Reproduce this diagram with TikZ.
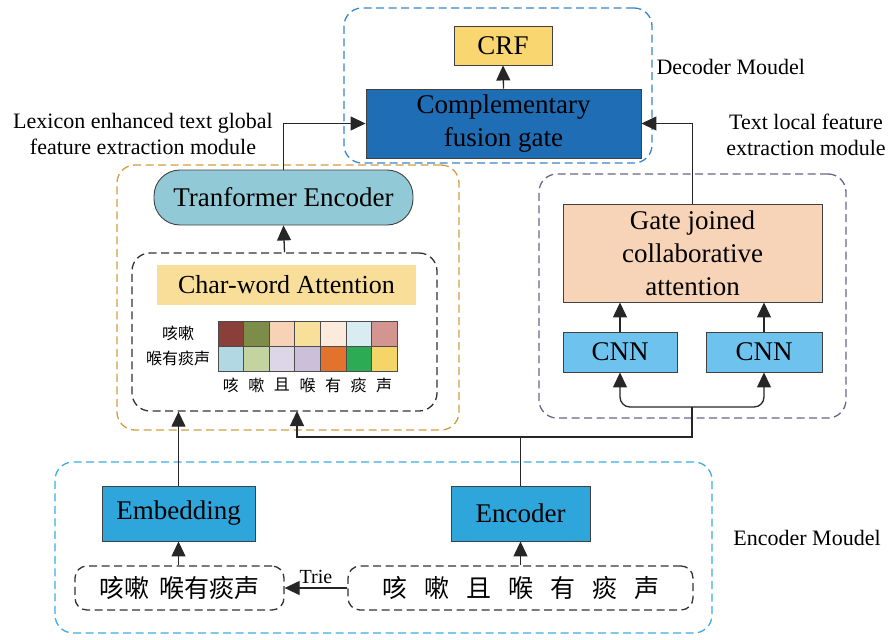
\documentclass[tikz,border=0pt]{standalone}
\usepackage{fontspec}
\setmainfont{Liberation Serif}
\newfontfamily\cjk{Noto Sans CJK SC}
\usetikzlibrary{arrows.meta,calc}
\definecolor{decblue}{HTML}{3A86C8}
\definecolor{encblue}{HTML}{3AAEE0}
\definecolor{goldc}{HTML}{CFA040}
\definecolor{purpc}{HTML}{6E6388}
\definecolor{crfy}{HTML}{F9D66F}
\definecolor{cfgb}{HTML}{1F6DB5}
\definecolor{transc}{HTML}{92C9D6}
\definecolor{cwy}{HTML}{F8DE98}
\definecolor{gatec}{HTML}{F7D3B8}
\definecolor{cnnc}{HTML}{6EC3EE}
\definecolor{embc}{HTML}{2EA6DC}
\begin{document}
\begin{tikzpicture}[x=1pt,y=-1pt,
  box/.style={draw=black!75, line width=0.9pt, inner sep=0pt, font=\fontsize{27}{30}\selectfont, align=center},
  arr/.style={line width=1.3pt, draw=black!85, -{Triangle[length=15pt,width=14pt]}},
  ln/.style={line width=1.3pt, draw=black!85},
  lbl/.style={font=\fontsize{22}{26}\selectfont, align=center},
  modbox/.style={line width=1.3pt, dash pattern=on 8pt off 4.5pt, rounded corners=18pt, inner sep=0pt},
  cjkl/.style={font=\cjk\fontsize{16}{18}\selectfont, inner sep=0pt},
]
\useasboundingbox (0,0) rectangle (892,640);

% module boxes
\node[modbox, draw=decblue, minimum width=308, minimum height=155] (decmod) at (498,85.5) {};
\node[modbox, draw=goldc, minimum width=342, minimum height=265] (globmod) at (288,297.5) {};
\node[modbox, draw=black!80, minimum width=305, minimum height=158] (cw) at (284.5,332) {};
\node[modbox, draw=purpc, minimum width=307, minimum height=244] (locmod) at (692.5,296) {};
\node[modbox, draw=encblue, minimum width=657, minimum height=171] (encmod) at (383.5,547.5) {};

% main boxes
\node[box, fill=crfy, minimum width=98, minimum height=39] (crf) at (503,45.5) {CRF};
\node[box, fill=cfgb, minimum width=275, minimum height=69, font=\fontsize{27}{33}\selectfont] (cfg) at (503.5,123.5) {Complementary\\fusion gate};
\node[box, fill=transc, minimum width=259, minimum height=55, rounded corners=26pt] (trans) at (283.5,197.5) {Tranformer Encoder};
\node[box, draw=none, fill=cwy, minimum width=259, minimum height=40, font=\fontsize{26}{30}\selectfont] (cwa) at (286.5,285) {Char-word Attention};
\node[box, fill=gatec, minimum width=259, minimum height=98, font=\fontsize{27}{33}\selectfont] (gate) at (692.5,253) {Gate joined\\collaborative\\attention};
\node[box, fill=cnnc, minimum width=114, minimum height=40] (cnn1) at (620,352) {CNN};
\node[box, fill=cnnc, minimum width=116, minimum height=40] (cnn2) at (764,352) {CNN};
\node[box, fill=embc, minimum width=153, minimum height=55] (emb) at (178.5,513.5) {Embedding};
\node[box, fill=embc, minimum width=139, minimum height=55] (enc) at (520.5,513.5) {Encoder};

% input boxes
\node[modbox, draw=black!80, rounded corners=12pt, minimum width=209, minimum height=44, font=\cjk\fontsize{25}{28}\selectfont] (inl) at (179.5,588) {咳嗽\hspace{10pt}喉有痰声};
\node[modbox, draw=black!80, rounded corners=12pt, minimum width=345, minimum height=44, font=\cjk\fontsize{25}{28}\selectfont] (inr) at (520.5,588) {咳\hspace{17pt}嗽\hspace{17pt}且\hspace{17pt}喉\hspace{17pt}有\hspace{17pt}痰\hspace{17pt}声};

% attention grid
\foreach \c [count=\i from 0] in {8B3F3B,7D8C48,F8D2B6,F8E09A,FCEBDD,D9ECF2,D49490} {
  \definecolor{tmpc}{HTML}{\c}
  \filldraw[fill=tmpc, draw=black!70, line width=0.6pt] (218+25.57*\i,321) rectangle ++(25.57,25);
}
\foreach \c [count=\i from 0] in {B2D9E3,C3D4A0,DDD6E6,CBBFD9,E2732D,2DAA54,F5D56A} {
  \definecolor{tmpc}{HTML}{\c}
  \filldraw[fill=tmpc, draw=black!70, line width=0.6pt] (218+25.57*\i,346) rectangle ++(25.57,25);
}
\node[cjkl] (r1) at (178,333) {咳嗽};
\node[cjkl] (r2) at (178,358) {喉有痰声};
\foreach \t [count=\i from 0] in {咳,嗽,且,喉,有,痰,声} {
  \node[cjkl] (col\i) at (230.8+25.57*\i,385) {\t};
}

% labels
\node[lbl, anchor=west] (declbl) at (653,67) {Decoder Moudel};
\node[lbl] (globlbl) at (143,134) {Lexicon enhanced text global\\feature extraction module};
\node[lbl] (loclbl) at (806,135) {Text local feature\\extraction module};
\node[lbl] (enclbl) at (807,538) {Encoder Moudel};

% connectors
\draw[arr] (cfg.north) -- (crf.south);
\draw[arr] (trans.north) |- (cfg.west);
\draw[arr] (gate.north) |- (cfg.east);
\draw[arr] (cw.north) -- (trans.south);
\draw[arr] (cnn1.north) -- (cnn1.north |- gate.south);
\draw[arr] (cnn2.north) -- (cnn2.north |- gate.south);
\draw[arr] (emb.north) -- (emb.north |- cw.south);
\coordinate (j) at (520.5,437);
\coordinate (k) at (692,437);
\coordinate (s) at (692,407);
\coordinate (cwin) at (297,411);
\draw[arr] (enc.north) -- (j) -| (cwin);
\draw[ln] (j) -- (k) -- (s);
\draw[arr, rounded corners=10pt] (s) -| (cnn1.south);
\draw[arr, rounded corners=10pt] (s) -| (cnn2.south);
\draw[arr] (emb.south |- inl.north) -- (emb.south);
\draw[arr] (enc.south |- inr.north) -- (enc.south);
\draw[arr] (inr.west) -- (inl.east) node[midway, above, font=\fontsize{20}{22}\selectfont, inner sep=1pt, yshift=3pt] (trie) {Trie};
\end{tikzpicture}
\end{document}
